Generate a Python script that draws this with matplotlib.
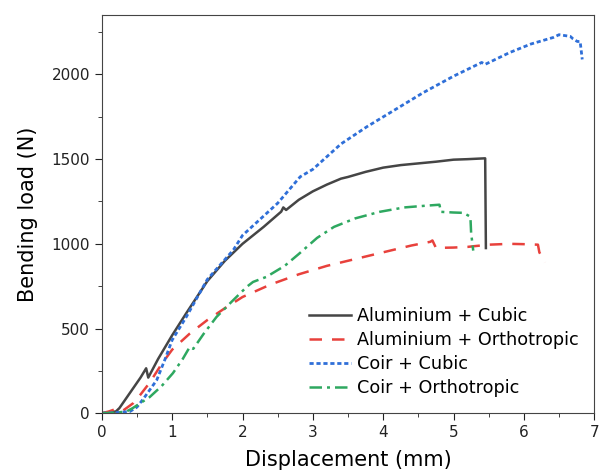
import matplotlib.pyplot as plt
from matplotlib.ticker import MultipleLocator

# Aluminium + Cubic
al_cub_x = [0, 0.1, 0.2, 0.25, 0.4, 0.55, 0.63, 0.66, 0.8, 1.0, 1.2, 1.5, 1.75, 2.0, 2.3, 2.55,
            2.58, 2.62, 2.8, 3.0, 3.2, 3.4, 3.5, 3.75, 4.0, 4.25, 4.5, 4.75, 5.0, 5.2, 5.45, 5.46]
al_cub_y = [0, 5, 10, 30, 120, 210, 265, 210, 320, 460, 590, 780, 900, 1000, 1100, 1190,
            1215, 1200, 1260, 1310, 1350, 1385, 1395, 1425, 1450, 1465, 1475, 1485, 1497, 1500, 1505, 975]

# Aluminium + Orthotropic
al_ort_x = [0, 0.1, 0.2, 0.3, 0.45, 0.55, 0.68, 0.85, 1.0, 1.25, 1.5, 1.75, 2.0, 2.4, 2.8, 3.2,
            3.6, 4.0, 4.4, 4.67, 4.7, 4.75, 5.0, 5.2, 5.5, 5.8, 6.0, 6.2, 6.22, 6.26, 6.3]
al_ort_y = [0, 10, 25, 15, 60, 110, 180, 290, 375, 470, 550, 620, 686, 760, 820, 870,
            910, 950, 990, 1012, 1020, 976, 978, 982, 995, 1000, 998, 995, 950, 920, 890]

# Coir + Cubic
co_cub_x = [0, 0.2, 0.4, 0.5, 0.6, 0.78, 0.9, 1.0, 1.2, 1.5, 1.87, 2.0, 2.5, 2.82, 3.0, 3.4,
            3.77, 4.2, 4.57, 5.0, 5.4, 5.45, 5.8, 6.1, 6.42, 6.5, 6.66, 6.7, 6.76, 6.8, 6.83]
co_cub_y = [0, 3, 10, 36, 90, 195, 320, 432, 568, 790, 964, 1050, 1240, 1396, 1440, 1590,
            1692, 1800, 1893, 1990, 2071, 2060, 2130, 2180, 2219, 2235, 2225, 2210, 2195, 2195, 2089]

# Coir + Orthotropic
co_ort_x = [0, 0.2, 0.35, 0.44, 0.55, 0.68, 0.85, 1.01, 1.15, 1.25, 1.3, 1.45, 1.63, 1.85, 2.06,
            2.15, 2.34, 2.6, 2.8, 3.06, 3.3, 3.6, 3.95, 4.3, 4.6, 4.8, 4.82, 5.0, 5.14, 5.24, 5.25, 5.28]
co_ort_y = [0, 3, 10, 30, 60, 95, 160, 236, 320, 391, 380, 470, 568, 660, 746,
            775, 805, 870, 940, 1035, 1100, 1150, 1189, 1215, 1225, 1231, 1189, 1185, 1183, 1160, 1065, 960]

labels = ['Aluminium + Cubic', 'Aluminium + Orthotropic', 'Coir + Cubic', 'Coir + Orthotropic']

fig = plt.figure(figsize=(5.99, 4.76), dpi=100)
ax = fig.add_axes([0.170, 0.132, 0.822, 0.836])

ax.plot(al_cub_x, al_cub_y, color='#454545', lw=1.8, ls='-', label=labels[0])
ax.plot(al_ort_x, al_ort_y, color='#e8413c', lw=1.8, ls=(0, (5, 4)), label=labels[1])
ax.plot(co_cub_x, co_cub_y, color='#2f6fd8', lw=2.0, ls=(0, (1.5, 1)), label=labels[2])
ax.plot(co_ort_x, co_ort_y, color='#2ea860', lw=1.8, ls=(0, (5, 2, 1.2, 2)), label=labels[3])

ax.set_xlim(0, 7)
ax.set_ylim(0, 2350)
ax.xaxis.set_major_locator(MultipleLocator(1))
ax.xaxis.set_minor_locator(MultipleLocator(0.5))
ax.yaxis.set_major_locator(MultipleLocator(500))
ax.yaxis.set_minor_locator(MultipleLocator(250))
ax.tick_params(which='both', direction='out', labelsize=11, colors='#222222')
ax.tick_params(which='major', length=5)
ax.tick_params(which='minor', length=3)
for s in ax.spines.values():
    s.set_color('#444444')

ax.set_xlabel('Displacement (mm)', fontsize=15, labelpad=7)
ax.set_ylabel('Bending load (N)', fontsize=15, labelpad=10)

ax.legend(loc='lower right', frameon=False, fontsize=12.7, handlelength=2.4,
          handletextpad=0.3, labelspacing=0.35, bbox_to_anchor=(1.0, 0.0))

fig.savefig('out.png', dpi=100)
